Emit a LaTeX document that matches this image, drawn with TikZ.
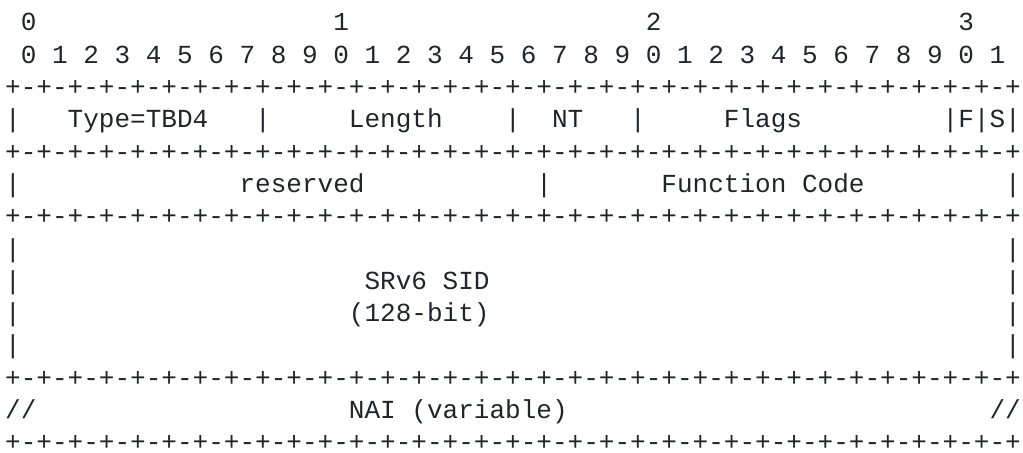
\documentclass[tikz,border=0pt]{standalone}
\usepackage{fontspec}
\usepackage{tikz}
\newfontfamily\pktfont{Liberation Mono}
\definecolor{ink}{HTML}{212529}

\begin{document}
\begin{tikzpicture}[x=7.8125pt,y=-16.15pt,
    cell/.style={anchor=base west,inner sep=0pt,outer sep=0pt,text=ink,
        font=\pktfont\fontsize{13.02pt}{16pt}\selectfont}]
    \useasboundingbox (-2.6pt,15.5pt) rectangle (508.9pt,-211pt);

    \foreach \n in {0,...,3}{
        \node[cell] (tens\n) at (20*\n+1,0) {\n};
    }
    \foreach \b in {0,...,31}{
        \pgfmathtruncatemacro\d{mod(\b,10)}
        \node[cell] (bit\b) at (2*\b+1,1) {\d};
    }

    \foreach \r in {2,4,6,11,13}{
        \node[cell] (rule\r) at (0,\r) {+-+-+-+-+-+-+-+-+-+-+-+-+-+-+-+-+-+-+-+-+-+-+-+-+-+-+-+-+-+-+-+-+};
    }

    \foreach \c in {0,16,32,40}{
        \node[cell] (bar3-\c) at (\c,3) {|};
    }
    \node[cell] (type) at (4,3) {Type=TBD4};
    \node[cell] (length) at (22,3) {Length};
    \node[cell] (nt) at (35,3) {NT};
    \node[cell] (flags) at (46,3) {Flags};
    \node[cell] (fs) at (60,3) {|F|S|};

    \foreach \c in {0,34,64}{
        \node[cell] (bar5-\c) at (\c,5) {|};
    }
    \node[cell] (reserved) at (15,5) {reserved};
    \node[cell] (fcode) at (42,5) {Function Code};

    \foreach \r in {7,...,10}{
        \node[cell] (left\r) at (0,\r) {|};
        \node[cell] (right\r) at (64,\r) {|};
    }
    \node[cell] (sid) at (23,8) {SRv6 SID};
    \node[cell] (sidlen) at (22,9) {(128-bit)};

    \node[cell] (naileft) at (0,12) {//};
    \node[cell] (nai) at (22,12) {NAI (variable)};
    \node[cell] (nairight) at (63,12) {//};

\end{tikzpicture}
\end{document}
